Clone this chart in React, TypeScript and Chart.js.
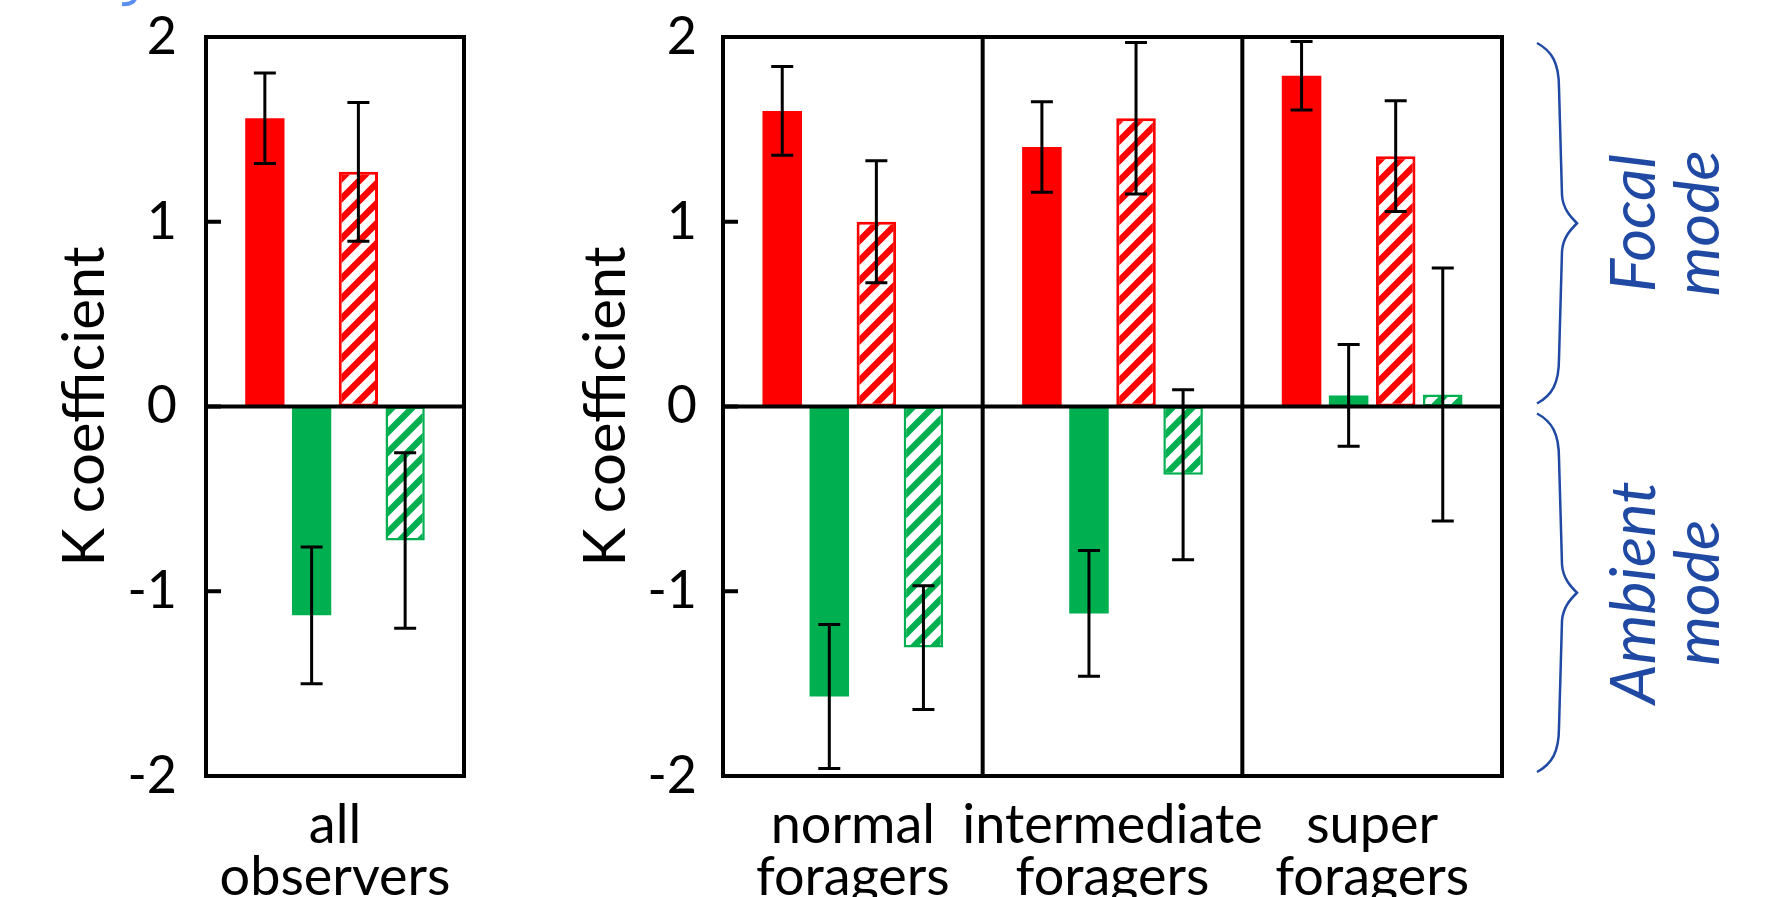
import React, { useEffect, useRef } from "react";
import { Chart, registerables } from "chart.js";

Chart.register(...registerables);

// ---------- data ----------
const leftCategories = [["all", "observers"]];
const rightCategories = [
  ["normal", "foragers"],
  ["intermediate", "foragers"],
  ["super", "foragers"],
];
const yTickValues = [-2, -1, 0, 1, 2];
const yTitle = "K coefficient";
const seriesNames = ["Focal (solid)", "Ambient (solid)", "Focal (hatched)", "Ambient (hatched)"];

const leftFocalSolid = [1.56];
const leftFocalSolidErr = [0.245];
const leftAmbientSolid = [-1.13];
const leftAmbientSolidErr = [0.37];
const leftFocalHatched = [1.27];
const leftFocalHatchedErr = [0.375];
const leftAmbientHatched = [-0.725];
const leftAmbientHatchedErr = [0.475];

const rightFocalSolid = [1.6, 1.405, 1.79];
const rightFocalSolidErr = [0.24, 0.245, 0.185];
const rightAmbientSolid = [-1.57, -1.12, 0.06];
const rightAmbientSolidErr = [0.39, 0.34, 0.275];
const rightFocalHatched = [1.0, 1.56, 1.355];
const rightFocalHatchedErr = [0.33, 0.41, 0.3];
const rightAmbientHatched = [-1.305, -0.37, 0.065];
const rightAmbientHatchedErr = [0.335, 0.46, 0.685];

const braceLabels = [
  ["Focal", "mode"],
  ["Ambient", "mode"],
];

// ---------- styles ----------
const RED = "#ff0000";
const GREEN = "#00b050";
const BLUE = "#1f49a3";
const FONT = "Lato";
const W = 1769;
const H = 897;
const PLOT_TOP = 37;
const PLOT_BOTTOM = 776;

function makeHatch(color: string) {
  const size = 20;
  const c = document.createElement("canvas");
  c.width = size;
  c.height = size;
  const g = c.getContext("2d")!;
  g.fillStyle = "#ffffff";
  g.fillRect(0, 0, size, size);
  g.strokeStyle = color;
  g.lineWidth = 6.5;
  g.beginPath();
  for (let k = -1; k <= 1; k++) {
    g.moveTo(k * size - 3, size + 3);
    g.lineTo(k * size + size + 3, -3);
  }
  g.stroke();
  return g.createPattern(c, "repeat")!;
}

function buildDatasets(
  fs: number[], fsE: number[],
  as: number[], asE: number[],
  fh: number[], fhE: number[],
  ah: number[], ahE: number[]
) {
  const hatchRed = makeHatch(RED);
  const hatchGreen = makeHatch(GREEN);
  return [
    { label: seriesNames[0], data: fs, errors: fsE, backgroundColor: RED, borderWidth: 0 },
    { label: seriesNames[1], data: as, errors: asE, backgroundColor: GREEN, borderWidth: 0 },
    { label: seriesNames[2], data: fh, errors: fhE, backgroundColor: hatchRed, borderColor: RED, borderWidth: 3, borderSkipped: false },
    { label: seriesNames[3], data: ah, errors: ahE, backgroundColor: hatchGreen, borderColor: GREEN, borderWidth: 2.5, borderSkipped: false },
  ];
}

const framePlugin = {
  id: "frameAndErrors",
  afterDatasetsDraw(chart: any) {
    const ctx = chart.ctx;
    const { left, right, top, bottom } = chart.chartArea;
    const ys = chart.scales.y;
    const xs = chart.scales.x;
    ctx.save();
    ctx.strokeStyle = "#000";
    ctx.lineWidth = 4;
    ctx.strokeRect(left, top, right - left, bottom - top);
    const y0 = ys.getPixelForValue(0);
    ctx.beginPath();
    ctx.moveTo(left, y0);
    ctx.lineTo(right, y0);
    ctx.stroke();
    const n = chart.data.labels.length;
    ctx.beginPath();
    for (let i = 1; i < n; i++) {
      const x = (xs.getPixelForValue(i - 1) + xs.getPixelForValue(i)) / 2;
      ctx.moveTo(x, top);
      ctx.lineTo(x, bottom);
    }
    ctx.stroke();
    ctx.beginPath();
    yTickValues.forEach((v) => {
      const py = ys.getPixelForValue(v);
      ctx.moveTo(left, py);
      ctx.lineTo(left + 15, py);
    });
    ctx.stroke();
    ctx.lineWidth = 3;
    chart.data.datasets.forEach((ds: any, i: number) => {
      const meta = chart.getDatasetMeta(i);
      meta.data.forEach((bar: any, j: number) => {
        const v = ds.data[j];
        const e = ds.errors[j];
        const x = bar.x;
        const yt = ys.getPixelForValue(v + e);
        const yb = ys.getPixelForValue(v - e);
        ctx.beginPath();
        ctx.moveTo(x, yt);
        ctx.lineTo(x, yb);
        ctx.moveTo(x - 11, yt);
        ctx.lineTo(x + 11, yt);
        ctx.moveTo(x - 11, yb);
        ctx.lineTo(x + 11, yb);
        ctx.stroke();
      });
    });
    ctx.restore();
  },
};

const bracePlugin = {
  id: "braces",
  afterDraw(chart: any) {
    const ctx = chart.ctx;
    const { right } = chart.chartArea;
    const ys = chart.scales.y;
    const ranges = [
      [ys.getPixelForValue(2) + 6, ys.getPixelForValue(0) - 3],
      [ys.getPixelForValue(0) + 7, ys.getPixelForValue(-2) - 4],
    ];
    const x0 = right + 35;
    const xsp = right + 57;
    const xt = right + 75;
    ctx.save();
    ctx.strokeStyle = BLUE;
    ctx.fillStyle = BLUE;
    ctx.lineWidth = 2.5;
    ranges.forEach(([yTop, yBot], k) => {
      const yMid = (yTop + yBot) / 2;
      ctx.beginPath();
      ctx.moveTo(x0, yTop);
      ctx.bezierCurveTo(x0 + 15, yTop + 8, xsp, yTop + 20, xsp, yTop + 45);
      ctx.lineTo(xsp + 3, yMid - 28);
      ctx.bezierCurveTo(xsp + 4, yMid - 14, xt - 6, yMid - 6, xt, yMid);
      ctx.bezierCurveTo(xt - 6, yMid + 6, xsp + 4, yMid + 14, xsp + 3, yMid + 28);
      ctx.lineTo(xsp, yBot - 45);
      ctx.bezierCurveTo(xsp, yBot - 20, x0 + 15, yBot - 8, x0, yBot);
      ctx.stroke();
      ctx.font = `italic 63px ${FONT}`;
      ctx.textAlign = "center";
      ctx.textBaseline = "alphabetic";
      const lines = braceLabels[k];
      const baseX = [right + 153, right + 217];
      lines.forEach((t, li) => {
        ctx.save();
        ctx.translate(baseX[li], yMid);
        ctx.rotate(-Math.PI / 2);
        ctx.fillText(t, 0, 0);
        ctx.restore();
      });
    });
    ctx.restore();
  },
};

const cornerPlugin = {
  id: "corner",
  afterDraw(chart: any) {
    const ctx = chart.ctx;
    ctx.save();
    ctx.strokeStyle = "#5b8ff0";
    ctx.lineWidth = 4;
    ctx.beginPath();
    ctx.moveTo(135, -1);
    ctx.quadraticCurveTo(132, 5, 122, 4);
    ctx.stroke();
    ctx.restore();
  },
};

function makeConfig(
  labels: string[][],
  datasets: any[],
  yWidth: number,
  padRight: number,
  titlePad: number,
  tickPad: number,
  extraPlugins: any[]
) {
  return {
    type: "bar",
    data: { labels, datasets },
    options: {
      responsive: false,
      animation: false,
      devicePixelRatio: 1,
      layout: { padding: { left: 0, right: padRight, top: PLOT_TOP, bottom: 0 } },
      plugins: { legend: { display: false }, tooltip: { enabled: false }, title: { display: false } },
      datasets: { bar: { categoryPercentage: 0.725, barPercentage: 0.84 } },
      scales: {
        x: {
          type: "category",
          grid: { display: false },
          border: { display: false },
          ticks: {
            color: "#000",
            font: { family: FONT, size: 54, lineHeight: 0.97 },
            padding: 15,
            maxRotation: 0,
            autoSkip: false,
          },
          afterFit: (s: any) => {
            s.height = H - PLOT_BOTTOM;
            s.paddingLeft = 0;
            s.paddingRight = 0;
          },
        },
        y: {
          type: "linear",
          min: -2,
          max: 2,
          grid: { display: false },
          border: { display: false },
          afterBuildTicks: (s: any) => {
            s.ticks = yTickValues.map((v) => ({ value: v }));
          },
          ticks: {
            color: "#000",
            font: { family: FONT, size: 52 },
            padding: tickPad,
            callback: (v: any) => String(v),
          },
          title: {
            display: true,
            text: yTitle,
            color: "#000",
            font: { family: FONT, size: 58, lineHeight: 1.2 },
            padding: { top: titlePad, bottom: 0 },
          },
          afterFit: (s: any) => {
            s.width = yWidth;
            s.paddingTop = 0;
            s.paddingBottom = 0;
          },
        },
      },
    },
    plugins: [framePlugin, ...extraPlugins],
  };
}

function ChartCanvas({ left, width, build }: { left: number; width: number; build: () => any }) {
  const ref = useRef<HTMLCanvasElement>(null);
  useEffect(() => {
    const chart = new Chart(ref.current!, build());
    return () => chart.destroy();
  }, []);
  return (
    <canvas
      ref={ref}
      width={width}
      height={H}
      style={{ position: "absolute", left, top: 0, width, height: H }}
    />
  );
}

export default function App() {
  const LEFT_W = 540;
  const RIGHT_X = 540;
  const RIGHT_W = W - RIGHT_X;
  return (
    <div
      style={{
        position: "fixed",
        left: 0,
        top: 0,
        width: W,
        height: H,
        background: "#fff",
        overflow: "hidden",
      }}
    >
      <ChartCanvas
        left={0}
        width={LEFT_W}
        build={() =>
          makeConfig(
            leftCategories,
            buildDatasets(
              leftFocalSolid, leftFocalSolidErr,
              leftAmbientSolid, leftAmbientSolidErr,
              leftFocalHatched, leftFocalHatchedErr,
              leftAmbientHatched, leftAmbientHatchedErr
            ),
            206,
            LEFT_W - 464,
            50,
            21,
            [cornerPlugin]
          )
        }
      />
      <ChartCanvas
        left={RIGHT_X}
        width={RIGHT_W}
        build={() =>
          makeConfig(
            rightCategories,
            buildDatasets(
              rightFocalSolid, rightFocalSolidErr,
              rightAmbientSolid, rightAmbientSolidErr,
              rightFocalHatched, rightFocalHatchedErr,
              rightAmbientHatched, rightAmbientHatchedErr
            ),
            723 - RIGHT_X,
            RIGHT_W - (1502 - RIGHT_X),
            31,
            18,
            [bracePlugin]
          )
        }
      />
    </div>
  );
}
